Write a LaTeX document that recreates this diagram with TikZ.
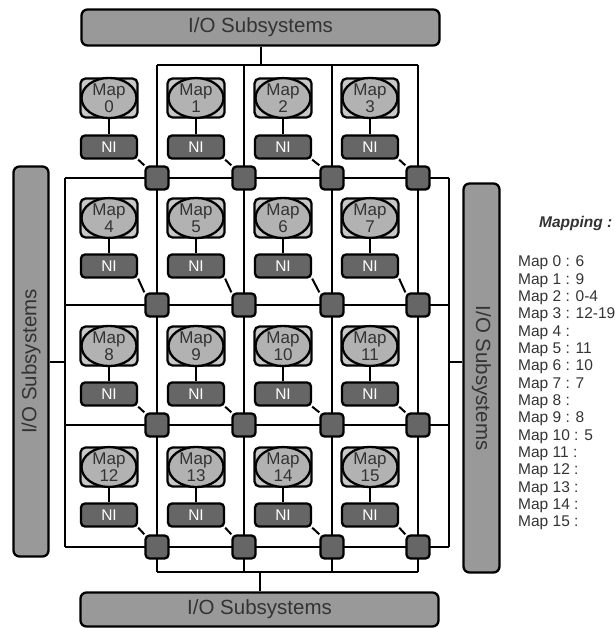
\documentclass[tikz,border=0pt]{standalone}
\usepackage{fontspec}
\setmainfont{Liberation Sans}
\usepackage{tikz}
\usetikzlibrary{shapes, backgrounds}

\definecolor{tilegray}{HTML}{C8C8C8}
\definecolor{mapgray}{HTML}{B2B2B2}
\definecolor{iogray}{HTML}{999999}
\definecolor{nigray}{HTML}{666666}
\definecolor{labelgray}{HTML}{333333}

\begin{document}
\begin{tikzpicture}[x=1pt,y=-1pt,
  bus/.style={line width=2pt},
  iobox/.style={draw,line width=2.3pt,rounded corners=6pt,fill=iogray,text=labelgray,inner sep=0pt,font=\fontsize{20.5}{20}\selectfont},
  mapbox/.style={draw,line width=2.3pt,rounded corners=5pt,fill=tilegray,minimum width=57pt,minimum height=39pt},
  mapcore/.style={ellipse,draw,line width=2.3pt,fill=mapgray,text=labelgray,inner sep=0pt,minimum width=55pt,minimum height=34pt,align=center,font=\fontsize{17}{16.5}\selectfont},
  nibox/.style={draw,line width=2.3pt,rounded corners=4pt,fill=nigray,text=white,minimum width=56pt,minimum height=23pt,inner sep=0pt,font=\fontsize{15.5}{15}\selectfont},
  router/.style={draw,line width=2.3pt,rounded corners=4pt,fill=nigray,minimum size=23pt,inner sep=0pt},
  maptxt/.style={anchor=base west,inner sep=0pt,text=labelgray,font=\fontsize{15.5}{17}\selectfont}]

\useasboundingbox (0,0) rectangle (614,628);

\foreach \c/\rx in {0/157,1/244,2/332,3/418} {
  \coordinate (tb\c) at (\rx,65);
  \coordinate (bb\c) at (\rx,572);
  \draw[bus] (tb\c) -- (bb\c);
}
\foreach \r/\ry in {0/178,1/305,2/425,3/547} {
  \coordinate (lb\r) at (65,\ry);
  \coordinate (rb\r) at (449,\ry);
  \draw[bus] (lb\r) -- (rb\r);
}
\draw[bus] (tb0) -- (tb3);
\draw[bus] (bb0) -- (bb3);
\draw[bus] (lb0) -- (lb3);
\draw[bus] (rb0) -- (rb3);
\coordinate (rstub) at (449,362);

\node[iobox,minimum width=358pt,minimum height=36pt] (iotop) at (260.5,27.5) {I/O Subsystems};
\node[iobox,minimum width=358pt,minimum height=34pt] (iobot) at (259.5,609.5) {I/O Subsystems};
\node[iobox,minimum width=390pt,minimum height=35pt,rotate=90] (ioleft) at (31,361.5) {I/O Subsystems};
\node[iobox,minimum width=389pt,minimum height=36pt,rotate=-90] (ioright) at (481.5,378) {I/O Subsystems};

\draw[bus] (iotop.south) -- (iotop.south |- tb0);
\draw[bus] (iobot.north) -- (iobot.north |- bb0);
\draw[bus] (ioleft.south) -- (ioleft.south -| lb0);
\draw[bus] (rstub) -- (rstub -| ioright.south);

\foreach \r/\my/\ny/\ry in {0/98/147/178,1/218/266/305,2/346/394/425,3/467/515/547}
  \foreach \c/\mx/\rx in {0/109/157,1/196/244,2/283/332,3/370/418} {
    \pgfmathtruncatemacro{\k}{4*\r+\c}
    \node[mapbox] (mb\k) at (\mx,\my) {};
    \node[mapcore] (m\k) at (\mx,\my) {Map\\\k};
    \node[nibox] (ni\k) at (\mx,\ny) {NI};
    \node[router] (r\k) at (\rx,\ry) {};
    \draw[bus] (m\k) -- (ni\k);
    \draw[bus] (ni\k.south east) -- (r\k.north west);
  }

\node[maptxt,font=\fontsize{15.5}{17}\selectfont\bfseries\itshape] (mhead) at (539,227.5) {Mapping :};
\foreach \i/\v in {0/6,1/9,2/0-4,3/12-19,4/,5/11,6/10,7/7,8/,9/8,10/5,11/,12/,13/,14/,15/}
  \node[maptxt] (mt\i) at (518,{266.7+17.35*\i}) {Map \i{} : \v};

\end{tikzpicture}
\end{document}
